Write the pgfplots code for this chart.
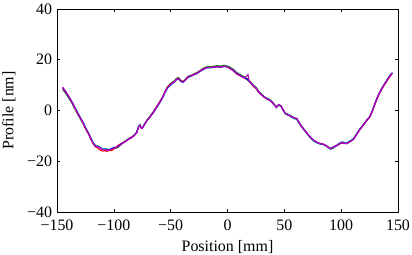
\documentclass[border=0pt]{standalone}
\usepackage{fontspec}
\setmainfont{Liberation Serif}
\usepackage{pgfplots}
\pgfplotsset{compat=1.18}
\usepackage{pgfplotstable}
\definecolor{mb}{rgb}{0,0,1}
\definecolor{mg}{rgb}{0,0.5,0}
\definecolor{mr}{rgb}{1,0,0}
\definecolor{mc}{rgb}{0,0.75,0.75}
\definecolor{mm}{rgb}{0.75,0,0.75}
\pgfplotstableread{
x b g r c m
-145 9.0 8.2 8.8 8.9 9.2
-143 7.8 7.2 7.6 8.0 7.9
-140 5.8 5.1 5.9 5.6 5.7
-137 3.5 3.0 3.3 3.7 3.4
-135 1.8 1.2 1.6 1.9 1.7
-132 -0.8 -1.3 -1.0 -0.6 -0.9
-130 -2.5 -2.9 -2.6 -2.3 -2.5
-127 -4.8 -5.3 -5.0 -4.6 -4.9
-125 -6.8 -7.1 -7.0 -6.6 -6.9
-122 -9.2 -9.5 -9.5 -9.0 -9.3
-120 -11.2 -11.5 -11.4 -11.0 -11.3
-118 -13.0 -13.2 -13.3 -12.8 -13.0
-116 -14.0 -13.8 -14.4 -13.8 -14.1
-114 -14.3 -14.0 -14.8 -14.2 -14.4
-112 -14.6 -14.5 -15.6 -14.6 -14.8
-110 -15.4 -15.2 -16.0 -15.1 -15.3
-108 -15.3 -15.5 -15.8 -15.0 -15.4
-106 -15.5 -15.2 -16.1 -15.3 -15.6
-104 -15.4 -15.6 -15.7 -15.2 -15.5
-102 -15.1 -15.3 -15.8 -14.9 -15.2
-100 -14.6 -15.0 -15.2 -14.5 -14.8
-98 -14.7 -14.8 -14.4 -14.5 -14.6
-96 -14.0 -14.5 -13.6 -13.8 -14.0
-94 -13.3 -13.6 -13.2 -13.1 -13.4
-92 -12.8 -12.8 -12.6 -12.6 -12.8
-90 -12.3 -12.1 -12.2 -12.1 -12.3
-88 -11.6 -11.6 -11.5 -11.4 -11.7
-86 -11.0 -11.0 -10.8 -10.8 -11.1
-84 -10.6 -10.5 -10.4 -10.4 -10.6
-82 -9.8 -9.6 -9.7 -9.6 -9.9
-80 -8.8 -8.6 -8.8 -8.6 -8.9
-78 -6.2 -6.1 -6.4 -6.0 -6.3
-77 -5.8 -5.6 -5.9 -5.7 -5.8
-76 -6.8 -6.6 -6.9 -6.7 -6.8
-75 -7.0 -6.9 -7.1 -6.9 -7.0
-73 -5.5 -5.3 -5.6 -5.4 -5.5
-71 -4.0 -3.8 -4.1 -3.9 -4.0
-69 -3.0 -2.8 -2.9 -3.1 -3.0
-67 -1.8 -1.5 -1.7 -1.9 -1.8
-65 -0.6 -0.3 -0.4 -0.8 -0.6
-63 0.8 1.0 1.1 0.6 0.8
-61 2.2 2.4 2.5 2.0 2.2
-59 3.6 3.9 3.9 3.4 3.6
-57 5.2 5.5 5.4 5.0 5.3
-55 7.2 7.5 7.4 7.0 7.2
-53 8.8 9.2 9.0 8.6 8.9
-51 9.8 10.3 10.0 9.7 9.9
-49 10.6 11.0 10.7 10.4 10.6
-47 11.2 11.6 11.3 11.1 11.2
-45 12.2 12.6 12.3 12.0 12.2
-43 12.6 13.0 12.7 12.4 12.6
-41 11.4 11.8 11.6 11.3 11.5
-39 11.2 11.5 11.4 11.1 11.3
-37 12.0 12.3 12.1 11.9 12.0
-35 13.1 13.4 13.2 12.9 13.1
-33 13.5 13.7 13.6 13.3 13.5
-31 13.8 14.1 13.9 13.7 13.8
-29 14.3 14.6 14.4 14.2 14.3
-27 14.5 14.9 14.7 14.5 14.6
-25 15.2 15.5 15.3 15.1 15.2
-23 15.8 16.1 15.9 15.7 15.8
-21 16.3 16.7 16.4 16.2 16.3
-19 16.8 17.1 16.9 16.7 16.8
-17 16.9 17.3 17.0 16.8 16.9
-15 16.9 17.2 17.0 16.8 16.9
-13 17.0 17.4 17.1 16.9 17.0
-11 17.1 17.5 17.2 17.0 17.1
-9 17.3 17.7 17.4 17.2 17.3
-7 17.0 17.5 17.1 17.0 17.1
-5 17.2 17.6 17.3 17.1 17.2
-3 17.4 17.8 17.4 17.3 17.4
-1 17.3 17.6 17.3 17.2 17.3
1 17.0 17.4 16.9 16.9 17.0
3 16.3 16.8 16.2 16.3 16.3
5 15.9 16.3 15.8 15.9 15.9
7 15.0 15.4 14.8 15.0 15.0
9 14.3 14.7 14.1 14.3 14.3
11 13.8 14.2 13.7 13.8 13.8
13 13.3 13.7 13.2 13.3 13.3
15 12.9 13.2 12.8 12.9 12.9
17 12.4 12.6 12.2 12.4 13.6
18 12.0 12.3 11.9 12.0 14.2
19 11.6 11.9 11.5 11.6 11.7
21 10.6 10.9 10.4 10.6 10.6
23 9.6 9.9 9.4 9.6 9.6
25 8.9 9.2 8.7 8.9 8.9
27 7.6 7.9 7.4 7.6 7.6
29 6.6 6.9 6.4 6.6 6.6
31 5.8 6.0 5.7 5.8 5.8
33 5.1 5.3 5.0 5.0 5.1
35 4.5 4.7 4.4 4.4 4.5
37 4.2 4.4 4.1 4.0 4.2
39 3.4 3.6 3.3 3.2 3.4
41 2.4 2.5 2.3 2.2 2.4
43 1.3 1.4 1.2 1.1 1.3
45 2.3 2.4 2.2 2.1 2.3
47 1.8 1.9 1.7 1.6 1.8
49 0.2 0.3 0.1 0.0 0.2
51 -1.2 -1.1 -1.2 -1.4 -1.2
53 -1.6 -1.5 -1.7 -1.9 -1.6
55 -2.0 -1.9 -2.1 -2.3 -2.0
57 -2.6 -2.5 -2.6 -2.9 -2.6
59 -3.0 -2.9 -3.1 -3.3 -3.0
61 -3.2 -3.1 -3.3 -3.6 -3.2
63 -4.8 -4.7 -4.9 -5.1 -4.8
65 -6.2 -6.1 -6.3 -6.5 -6.2
67 -7.3 -7.2 -7.4 -7.6 -7.3
69 -8.4 -8.3 -8.5 -8.7 -8.4
71 -9.5 -9.6 -9.6 -9.8 -9.5
73 -10.6 -10.8 -10.7 -10.9 -10.6
75 -11.4 -11.6 -11.5 -11.8 -11.4
77 -12.1 -12.3 -12.1 -12.4 -12.1
79 -12.6 -12.8 -12.6 -12.8 -12.6
81 -13.0 -13.1 -12.9 -13.2 -13.0
83 -13.2 -13.3 -13.1 -13.4 -13.2
85 -13.4 -13.5 -13.4 -13.6 -13.4
87 -13.9 -13.9 -14.0 -14.1 -13.9
89 -14.6 -14.5 -14.7 -14.8 -14.6
91 -15.0 -14.9 -15.1 -15.3 -15.0
93 -14.4 -14.4 -14.6 -14.8 -14.5
95 -14.0 -14.0 -14.1 -14.2 -14.0
97 -13.6 -13.5 -13.7 -13.3 -13.6
99 -12.9 -12.9 -13.1 -12.7 -12.9
101 -12.6 -12.6 -12.8 -12.3 -12.6
103 -12.9 -12.8 -13.0 -12.6 -12.9
105 -13.0 -12.9 -13.1 -12.7 -13.0
107 -12.4 -12.3 -12.5 -12.1 -12.4
109 -11.9 -11.7 -11.9 -11.6 -11.9
111 -11.2 -11.0 -11.3 -11.0 -11.2
113 -9.8 -9.6 -9.9 -9.7 -9.8
115 -8.4 -8.2 -8.5 -8.3 -8.4
117 -7.1 -6.9 -7.2 -7.0 -7.1
119 -6.0 -5.8 -6.1 -5.9 -6.0
121 -4.8 -4.7 -4.9 -4.7 -4.8
123 -3.6 -3.5 -3.7 -3.5 -3.6
125 -2.6 -2.5 -2.7 -2.5 -2.6
127 -0.6 -0.5 -0.8 -0.5 -0.6
129 1.8 1.9 1.6 1.9 1.8
131 4.2 4.3 3.9 4.3 4.2
133 6.3 6.4 6.0 6.4 6.3
135 8.0 8.1 7.7 8.1 8.0
137 9.6 9.7 9.3 9.7 9.6
139 11.0 11.1 10.7 11.1 11.0
141 12.4 12.5 12.1 12.5 12.4
143 13.7 13.8 13.4 13.8 13.7
145 14.8 14.9 14.6 14.9 14.8
}\prof
\begin{document}
\begin{tikzpicture}
\path[use as bounding box] (-57bp,-43bp) rectangle (355bp,212bp);
\begin{axis}[
  at={(0,0)}, anchor=south west,
  scale only axis, width=341bp, height=203bp,
  xmin=-150, xmax=150, ymin=-40, ymax=40,
  xtick={-150,-100,-50,0,50,100,150},
  xticklabels={−150,−100,−50,0,50,100,150},
  ytick={-40,-20,0,20,40},
  yticklabels={−40,−20,0,20,40},
  tick align=inside, major tick length=3bp,
  minor tick num=0,
  font=\fontsize{16}{19}\selectfont,
  xticklabel style={yshift=-4.5bp},
  yticklabel style={xshift=-1.5bp},
  axis line style={black, line width=0.6bp},
  tick style={black, line width=0.6bp},
  xlabel={Position [mm]},
  ylabel={Profile [nm]},
  xlabel style={at={(axis description cs:0.5,-0.171)}, anchor=center},
  ylabel style={at={(axis description cs:-0.141,0.5)}, anchor=center},
  every axis plot/.append style={line width=1.1bp, no markers},
]
\addplot[mg] table[x=x, y=g] {\prof};
\addplot[mc] table[x=x, y=c] {\prof};
\addplot[mr] table[x=x, y=r] {\prof};
\addplot[mb] table[x=x, y=b] {\prof};
\addplot[mm] table[x=x, y=m] {\prof};
\end{axis}
\end{tikzpicture}
\end{document}
